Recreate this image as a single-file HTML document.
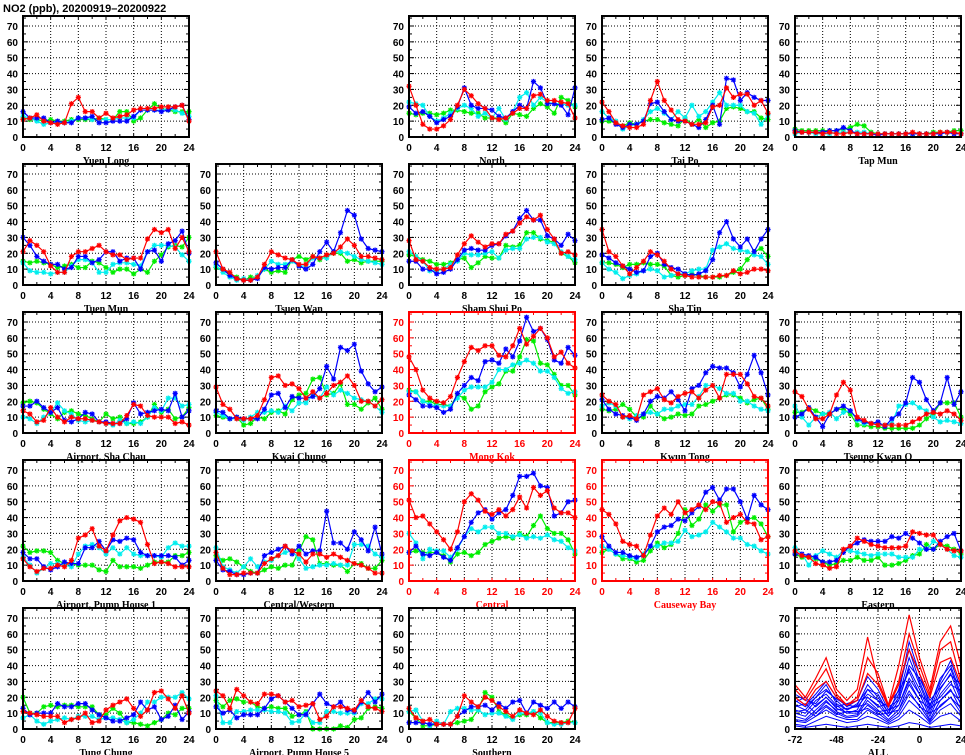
<!DOCTYPE html>
<html><head><meta charset="utf-8">
<style>
html,body{margin:0;padding:0;background:#fff;}
svg{display:block;font-family:"Liberation Sans",sans-serif;}
</style></head>
<body>
<svg id="chart" width="965" height="755" viewBox="0 0 965 755" xmlns="http://www.w3.org/2000/svg">
<rect x="0" y="0" width="965" height="755" fill="#fff"/>
<text x="3" y="12" font-size="11" font-weight="bold" fill="#000">NO2 (ppb), 20200919–20200922</text>
</svg>
<script>
const hours = [0,1,2,3,4,5,6,7,8,9,10,11,12,13,14,15,16,17,18,19,20,21,22,23,24];
const xTicks = [0,4,8,12,16,20,24];
const yTicks = [0,10,20,30,40,50,60,70];
const seriesColors = ["#00ee00","#00eeee","#0000ff","#ff0000"];

const stationNames = ["Yuen Long","North","Tai Po","Tap Mun","Tuen Mun","Tsuen Wan","Sham Shui Po","Sha Tin","Airport, Sha Chau","Kwai Chung","Mong Kok","Kwun Tong","Tseung Kwan O","Airport, Pump House 1","Central/Western","Central","Causeway Bay","Eastern","Tung Chung","Airport, Pump House 5","Southern"];
const stationCol = [0,2,3,4,0,1,2,3,0,1,2,3,4,0,1,2,3,4,0,1,2];
const stationRow = [0,0,0,0,1,1,1,1,2,2,2,2,2,3,3,3,3,3,4,4,4];
const stationRoadside = [0,0,0,0,0,0,0,0,0,0,1,0,0,0,0,1,1,0,0,0,0];

const green = [
[12,11,11,10,11,10,10,11,11,11,11,12,11,11,16,16,10,12,17,21,18,17,16,16,16],
[15,14,15,15,14,15,17,17,16,15,15,12,12,12,9,15,14,13,18,21,19,15,25,23,19],
[10,10,9,7,9,8,10,11,11,9,8,7,12,8,11,6,9,10,18,19,18,16,16,12,11],
[5,4,4,4,4,4,4,5,6,8,7,3,2,2,2,2,2,2,2,2,3,3,3,4,4],
[15,14,15,14,13,11,12,13,11,11,15,14,11,8,10,10,7,10,8,15,19,24,25,24,30],
[11,10,7,5,3,5,5,10,8,9,8,16,18,16,18,16,18,20,20,15,16,14,15,15,15],
[19,18,16,15,13,13,14,16,17,11,14,18,17,17,25,24,25,33,33,29,28,27,20,18,14],
[14,14,13,11,13,13,14,13,13,12,6,5,6,7,6,5,5,5,6,8,10,16,21,23,18],
[19,20,19,15,12,9,13,14,12,11,9,7,12,9,10,6,6,7,10,18,13,15,9,10,16],
[11,10,9,10,5,6,10,9,13,14,12,21,24,25,34,35,24,25,31,18,18,15,19,22,15],
[27,26,20,20,18,18,17,24,22,15,17,26,29,31,39,39,48,59,58,44,43,37,30,30,24],
[15,14,15,18,15,10,10,17,12,9,10,12,11,12,17,18,20,22,24,24,22,19,21,22,15],
[13,13,16,14,12,12,15,15,12,5,5,4,4,3,3,3,3,3,5,9,12,19,19,19,10],
[22,18,19,19,18,13,11,11,10,10,10,7,6,13,9,9,9,8,10,12,12,12,16,16,18],
[16,13,14,12,9,6,5,7,9,8,10,10,19,28,26,11,11,10,10,6,11,11,8,8,13],
[18,19,18,18,18,16,12,17,18,16,18,23,25,27,28,27,30,28,35,41,33,30,30,26,17],
[18,20,17,14,14,12,13,19,24,21,23,30,45,35,39,48,44,48,48,31,37,39,40,36,28],
[17,15,15,14,12,10,11,13,13,15,13,13,15,10,10,11,13,16,17,23,20,23,22,20,17],
[20,10,10,14,15,14,15,15,14,14,14,9,9,13,10,4,4,3,2,4,6,10,9,13,13],
[18,14,18,19,17,17,14,13,14,13,13,8,9,11,0,0,0,0,2,1,6,7,13,14,13],
[11,7,2,2,3,3,3,4,5,6,12,23,20,11,9,7,9,9,11,7,4,4,4,5,4]
];
const cyan = [
[13,12,10,8,9,9,9,10,12,12,11,11,11,11,12,12,12,17,17,17,17,18,17,15,13],
[22,21,20,13,10,12,15,18,20,18,13,15,12,18,11,16,25,28,20,25,22,21,21,20,20],
[16,12,10,5,7,8,11,16,18,15,11,16,12,20,13,16,22,28,20,20,20,16,15,8,14],
[2,3,3,2,2,2,3,3,3,3,3,2,2,2,2,2,2,2,2,2,2,2,3,3,2],
[14,9,8,8,7,8,8,12,16,16,14,8,8,13,14,14,13,12,21,25,25,25,24,19,15],
[12,8,5,3,4,3,6,10,15,13,13,15,12,12,17,17,17,21,21,20,18,16,15,14,13],
[21,18,15,9,9,10,13,15,20,19,19,20,21,17,22,23,23,29,30,30,27,26,21,18,16],
[14,10,8,4,6,7,9,10,9,5,6,7,7,9,10,10,22,24,26,23,22,21,19,18,13],
[10,9,6,10,13,19,14,12,8,7,8,7,6,5,8,6,7,6,10,16,14,22,22,17,18],
[13,11,9,9,8,10,13,13,14,13,17,14,19,19,24,22,29,24,27,25,22,21,20,17,13],
[26,26,20,18,17,17,17,22,27,29,29,29,32,40,40,43,44,46,44,39,39,35,28,25,26],
[17,19,17,10,9,11,12,13,12,15,15,17,18,18,23,30,30,28,25,25,20,20,17,15,14],
[17,10,5,10,12,13,9,13,14,8,6,6,6,5,6,17,18,19,16,14,10,7,8,7,6],
[15,10,5,8,11,11,10,9,17,22,23,21,17,21,17,21,17,16,16,16,15,21,24,22,22],
[21,9,7,5,9,14,9,12,13,16,18,19,14,8,9,10,10,11,10,10,23,23,22,17,15],
[30,24,14,20,19,19,15,20,28,33,31,34,34,30,30,28,29,27,28,27,29,26,25,21,19],
[22,20,17,16,15,14,17,22,22,24,24,25,32,28,29,31,37,34,31,27,27,23,22,19,17],
[21,17,10,16,19,17,15,19,19,18,17,16,17,17,17,15,15,15,20,20,25,23,20,16,15],
[7,9,5,3,5,6,7,6,8,8,8,6,7,7,6,4,6,10,17,17,20,20,20,23,19],
[21,4,4,11,11,12,12,12,11,11,10,4,5,10,4,4,11,11,10,10,10,16,16,19,19],
[11,12,5,2,5,3,11,13,13,12,12,9,10,10,8,6,10,10,11,10,4,3,3,4,4]
];
const blue = [
[16,12,12,12,9,10,9,9,12,12,13,9,9,10,10,10,13,17,17,17,16,17,19,20,11],
[19,15,16,13,9,11,13,19,31,20,18,18,17,13,12,16,20,18,35,31,21,21,20,14,31],
[11,12,8,6,8,8,10,21,22,16,11,10,10,8,6,11,20,8,37,36,23,28,25,23,23],
[4,3,3,3,3,4,4,6,4,2,2,2,1,2,2,2,2,2,2,2,2,2,3,2,2],
[30,25,18,15,13,13,10,11,18,18,14,16,21,21,15,17,17,10,21,22,15,26,28,34,20],
[14,10,6,4,3,3,4,11,10,11,11,16,12,10,13,21,27,21,33,47,44,29,23,22,21],
[15,15,10,10,7,8,10,16,22,23,22,22,25,26,31,34,42,47,41,41,31,29,25,32,28],
[19,17,14,12,10,8,9,18,20,13,11,10,7,6,7,9,16,33,40,29,24,29,21,29,35],
[17,17,20,16,13,16,8,7,9,13,12,7,7,6,6,9,19,12,13,14,15,14,25,10,14],
[14,13,9,10,9,9,9,15,24,25,16,23,22,22,23,28,42,34,54,52,56,39,31,26,29],
[24,21,17,17,16,13,15,25,30,35,33,45,46,44,53,48,58,73,64,66,59,46,44,54,49],
[21,15,12,11,10,8,12,20,23,22,26,21,14,28,30,38,42,41,41,38,29,37,49,38,24],
[10,12,16,10,4,12,15,17,14,9,7,6,7,4,9,12,19,35,32,21,14,19,35,18,26],
[18,14,14,9,7,9,12,11,11,21,21,25,19,26,25,27,26,18,16,16,16,16,15,10,13],
[13,7,6,4,4,5,5,16,18,20,22,17,22,17,19,19,44,24,24,20,31,26,19,34,17],
[18,22,17,16,18,15,13,21,28,37,43,45,39,43,45,54,66,66,68,60,59,41,43,50,51],
[28,22,18,18,16,15,16,22,31,34,35,39,38,43,47,56,59,51,58,58,50,39,54,48,45],
[17,17,16,15,12,12,13,18,22,24,26,25,25,25,28,27,30,27,24,20,20,25,28,30,19],
[13,9,10,10,10,16,14,14,16,16,12,9,7,5,5,7,9,17,12,14,6,8,15,6,11],
[14,10,12,7,9,9,9,13,19,21,17,13,9,9,16,22,16,14,17,12,11,17,23,17,22],
[4,4,4,3,3,3,3,8,11,14,14,15,12,16,13,17,18,10,17,15,13,17,13,17,14]
];
const red = [
[11,12,14,10,9,8,9,21,25,16,16,12,15,12,13,14,17,18,18,18,19,19,19,20,10],
[32,20,8,5,5,7,11,20,30,26,21,18,12,11,12,15,18,18,26,27,23,23,22,21,12],
[22,16,9,7,6,6,8,23,35,23,17,11,10,8,8,9,19,20,31,25,27,27,20,23,15],
[3,3,3,3,2,3,2,2,3,2,2,2,2,2,2,2,2,3,2,2,2,3,3,3,2],
[21,28,25,21,12,8,8,18,21,21,23,25,21,19,19,16,17,17,29,35,33,35,23,30,21],
[21,10,8,4,3,3,5,13,21,19,17,16,13,13,18,17,19,20,24,29,25,18,18,17,16],
[28,16,15,11,10,10,11,19,26,31,27,24,26,26,32,34,39,43,41,44,35,29,20,21,19],
[35,21,18,12,7,11,15,21,19,15,10,7,6,5,5,5,5,6,6,9,7,8,10,10,9],
[14,12,7,8,16,10,7,10,9,9,8,7,6,6,6,11,18,17,11,10,10,10,6,7,5],
[29,18,15,9,9,9,11,21,35,36,30,31,28,22,26,22,25,30,32,36,30,20,20,17,21],
[48,40,27,22,20,19,23,35,45,54,52,55,55,49,48,55,66,56,61,66,60,48,51,44,41],
[24,20,18,10,11,9,24,26,28,21,19,23,25,26,22,27,30,22,37,37,37,31,23,22,17],
[26,23,15,9,9,12,24,32,27,10,8,6,5,5,5,5,5,7,9,12,13,12,14,12,8],
[14,9,6,8,8,10,9,13,27,29,33,22,19,29,38,40,39,37,23,11,12,11,9,9,9],
[18,8,4,4,5,5,5,11,14,16,22,19,17,12,17,17,15,17,15,13,11,10,8,5,5],
[51,40,41,36,31,26,20,31,50,55,51,44,42,45,41,45,53,46,59,54,57,46,43,43,40],
[45,42,36,25,23,22,16,29,41,46,42,50,43,45,48,45,50,49,37,40,42,37,36,26,28],
[19,16,15,11,10,8,9,20,22,27,25,23,22,21,21,21,22,31,30,29,29,23,20,19,19],
[11,10,9,8,8,8,4,6,7,10,4,5,12,15,17,19,13,8,12,23,24,19,13,21,10],
[24,21,13,25,21,17,16,22,22,21,17,18,14,15,16,6,8,14,14,13,12,18,14,13,11],
[13,7,5,6,3,3,3,8,21,17,14,20,18,14,11,8,12,10,9,12,8,5,4,4,13]
];

const allHours = [-72,-66,-60,-54,-48,-42,-36,-30,-24,-18,-12,-6,0,6,12,18,24];
const allXTicks = [-72,-48,-24,0,24];
const allRed = [
[28,20,32,45,25,18,25,58,30,15,40,72,45,25,55,65,40],
[25,18,28,38,22,15,20,45,35,15,30,60,40,22,50,55,30],
[20,15,25,30,20,15,18,35,28,14,28,50,35,20,42,45,28]
];
const allBlue = [
[20,15,22,30,20,14,18,33,25,12,22,55,35,15,30,43,25],
[18,14,20,28,16,12,16,25,22,10,25,50,30,14,32,40,22],
[22,18,16,24,19,15,14,22,18,14,18,40,32,18,26,34,28],
[15,12,20,25,18,12,15,28,20,10,20,45,28,12,28,38,20],
[17,20,14,20,14,16,18,20,14,16,24,36,22,16,20,28,24],
[12,10,18,22,15,10,12,25,18,8,18,38,25,10,25,35,18],
[14,16,10,17,12,13,14,16,11,12,15,30,18,13,18,24,17],
[10,8,15,20,13,10,10,20,15,8,15,32,22,8,22,30,15],
[11,12,8,14,9,11,11,13,9,10,12,24,14,10,14,20,13],
[8,6,12,18,11,8,9,18,12,6,12,28,18,6,18,25,12],
[6,5,10,15,10,7,8,15,10,5,10,22,15,5,15,20,10],
[5,4,8,12,8,6,6,12,8,4,8,18,12,4,12,16,8],
[3,2,5,8,6,4,5,8,6,3,6,12,8,3,8,10,5],
[2,1,2,3,2,1,2,3,2,1,2,4,3,1,2,3,2]
];

const NS = "http://www.w3.org/2000/svg";
const svg = document.getElementById("chart");
const COL_LEFT = 23, COL_STEP = 193, PW = 166;
const ROW_ZERO = 137, ROW_STEP = 148, YMAX = 76.3, YPX = 111/70;

function mk(tag, attrs, parent){
  const e = document.createElementNS(NS, tag);
  for (const k in attrs) e.setAttribute(k, attrs[k]);
  (parent||svg).appendChild(e);
  return e;
}

function drawPanel(col, row, name, axisColor, xMin, xMax, xt, minorStep, drawSeries){
  const L = COL_LEFT + col*COL_STEP, B = ROW_ZERO + row*ROW_STEP;
  const T = B - YMAX*YPX;
  const xs = v => L + (v - xMin)/(xMax - xMin)*PW;
  const ys = v => B - v*YPX;
  const g = mk("g", {});
  
  
  xt.forEach(v => { if (v > xMin && v < xMax) mk("line",{x1:xs(v),x2:xs(v),y1:B,y2:T,stroke:"#000","stroke-width":1,"stroke-dasharray":"1,2"},g); });
  yTicks.forEach(v => { if (v > 0) mk("line",{x1:L,x2:L+PW,y1:ys(v),y2:ys(v),stroke:"#000","stroke-width":1,"stroke-dasharray":"1,2"},g); });
  for (let v = xMin + minorStep; v < xMax; v += minorStep) {
    mk("line",{x1:xs(v),x2:xs(v),y1:B,y2:B-3,stroke:axisColor,"stroke-width":1},g);
    mk("line",{x1:xs(v),x2:xs(v),y1:T,y2:T+3,stroke:axisColor,"stroke-width":1},g);
  }
  for (let v = 5; v < YMAX; v += 5) {
    const len = v % 10 === 0 ? 5 : 3;
    mk("line",{x1:L,x2:L+len,y1:ys(v),y2:ys(v),stroke:axisColor,"stroke-width":1},g);
    mk("line",{x1:L+PW,x2:L+PW-len,y1:ys(v),y2:ys(v),stroke:axisColor,"stroke-width":1},g);
  }
  const sg = mk("g", {}, g);
  drawSeries(sg, xs, ys);
  mk("rect",{x:L,y:T,width:PW,height:B-T,fill:"none",stroke:axisColor,"stroke-width":2},g);
  yTicks.forEach(v => {
    const t = mk("text",{x:L-5,y:ys(v)+4,"font-size":10,"font-weight":"bold","text-anchor":"end",fill:axisColor},g);
    t.textContent = v;
  });
  xt.forEach(v => {
    const t = mk("text",{x:xs(v),y:B+14,"font-size":10,"font-weight":"bold","text-anchor":"middle",fill:axisColor},g);
    t.textContent = v;
  });
  const tt = mk("text",{x:L+PW/2,y:B+27,"font-size":10,"font-weight":"bold","text-anchor":"middle",fill:axisColor,"font-family":"Liberation Serif, serif"},g);
  
  
  tt.textContent = name;
}

function star(parent, x, y, color){
  const s = 2.6;
  const d = `M${x-s},${y}H${x+s}M${x},${y-s}V${y+s}M${x-s*0.75},${y-s*0.75}L${x+s*0.75},${y+s*0.75}M${x-s*0.75},${y+s*0.75}L${x+s*0.75},${y-s*0.75}`;
  const p = mk("path",{d:d,stroke:color,"stroke-width":1.2,fill:"none"},parent);
  
  
}

stationNames.forEach((name, i) => {
  const ac = stationRoadside[i] ? "#ff0000" : "#000000";
  drawPanel(stationCol[i], stationRow[i], name, ac, 0, 24, xTicks, 2, (sg, xs, ys) => {
    [green[i], cyan[i], blue[i], red[i]].forEach((vals, si) => {
      const c = seriesColors[si];
      const pts = vals.map((v, k) => xs(hours[k]) + "," + ys(v)).join(" ");
      const pl = mk("polyline",{points:pts,fill:"none",stroke:c,"stroke-width":1.2},sg);
      
      
      vals.forEach((v, k) => star(sg, xs(hours[k]), ys(v), c));
    });
  });
});

drawPanel(4, 4, "ALL", "#000000", -72, 24, allXTicks, 6, (sg, xs, ys) => {
  allBlue.forEach(vals => {
    const pl = mk("polyline",{points:vals.map((v,k)=>xs(allHours[k])+","+ys(v)).join(" "),fill:"none",stroke:"#0000ff","stroke-width":1},sg);
    
    
  });
  allRed.forEach(vals => {
    const pl = mk("polyline",{points:vals.map((v,k)=>xs(allHours[k])+","+ys(v)).join(" "),fill:"none",stroke:"#ff0000","stroke-width":1.2},sg);
    
    
  });
});
</script>
</body></html>
